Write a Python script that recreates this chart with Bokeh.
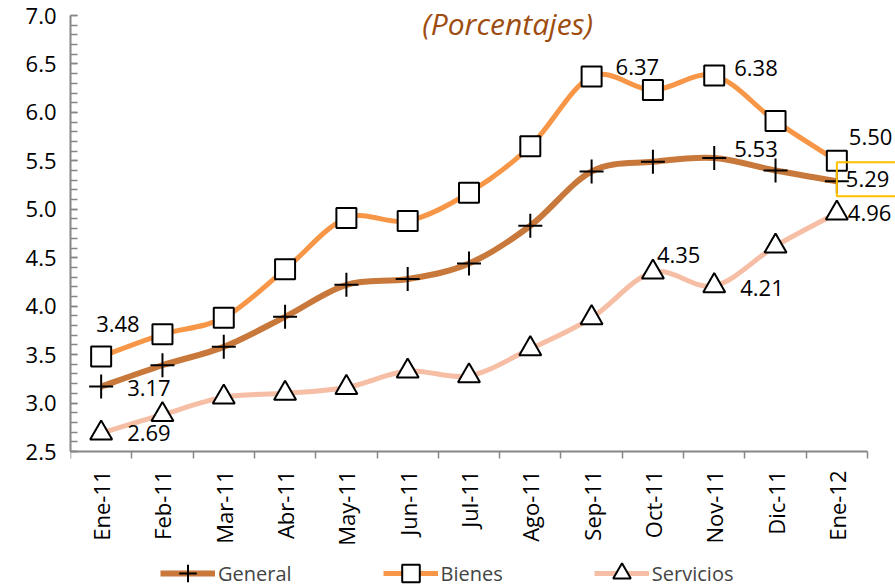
import numpy as np
from bokeh.plotting import figure
from bokeh.models import (ColumnDataSource, FixedTicker, SingleIntervalTicker, Range1d,
                          LabelSet, Label, Legend, LegendItem, NumeralTickFormatter)
from bokeh.embed import file_html
from bokeh.resources import INLINE
from bokeh.core.properties import value

months = ["Ene-11", "Feb-11", "Mar-11", "Abr-11", "May-11", "Jun-11", "Jul-11",
          "Ago-11", "Sep-11", "Oct-11", "Nov-11", "Dic-11", "Ene-12"]
general = [3.17, 3.39, 3.58, 3.89, 4.22, 4.28, 4.44, 4.83, 5.39, 5.49, 5.53, 5.40, 5.29]
bienes = [3.48, 3.71, 3.88, 4.38, 4.91, 4.88, 5.17, 5.65, 6.37, 6.23, 6.38, 5.91, 5.50]
servicios = [2.69, 2.88, 3.06, 3.10, 3.16, 3.33, 3.28, 3.56, 3.88, 4.35, 4.21, 4.62, 4.96]

FONT = "Open Sans"
C_GEN = "#C8783A"
C_BIE = "#F79646"
C_SER = "#F6BEA4"

n = len(months)
xs = np.arange(n) + 0.5
bounds = list(np.arange(n + 1).astype(float))

Y0, Y1 = 2.5, 7.0
PX_PER_UNIT = 436 / (Y1 - Y0)
# frame covers the whole drawing area (axis labels, legend and title live inside it)
p = figure(frame_width=825, frame_height=586, output_backend="svg", toolbar_location=None,
           x_range=Range1d(0, n + 28 / 61.3),
           y_range=Range1d(Y0 - 135 / PX_PER_UNIT, Y1 + 15 / PX_PER_UNIT),
           min_border_left=70, min_border_right=0, min_border_top=0, min_border_bottom=0)
p.outline_line_color = None
p.xgrid.visible = False
p.ygrid.visible = False
p.background_fill_color = "white"
p.border_fill_color = "white"

# y axis
yax = p.yaxis[0]
yax.bounds = (Y0, Y1)
yax.ticker = SingleIntervalTicker(interval=0.5, num_minor_ticks=5)
yax.formatter = NumeralTickFormatter(format="0.0")
yax.axis_line_color = "#868686"
yax.axis_line_width = 2
yax.major_tick_in = 7
yax.major_tick_out = 0
yax.minor_tick_in = 7
yax.minor_tick_out = 0
yax.major_tick_line_color = "#868686"
yax.minor_tick_line_color = "#868686"
yax.major_tick_line_width = 1.5
yax.minor_tick_line_width = 1.5
yax.major_label_text_font = FONT
yax.major_label_text_font_size = "22px"
yax.major_label_text_color = "black"
yax.major_label_standoff = 14

# x axis drawn at y = 2.5
xax = p.xaxis[0]
xax.fixed_location = Y0
xax.bounds = (0, n)
xax.ticker = FixedTicker(ticks=list(xs), minor_ticks=bounds)
xax.major_label_overrides = {float(x): m for x, m in zip(xs, months)}
xax.major_label_orientation = np.pi / 2
xax.axis_line_color = "#868686"
xax.axis_line_width = 2
xax.major_tick_in = 0
xax.major_tick_out = 0
xax.minor_tick_in = 0
xax.minor_tick_out = 7
xax.minor_tick_line_color = "#868686"
xax.minor_tick_line_width = 1.5
xax.major_label_text_font = FONT
xax.major_label_text_font_size = "22px"
xax.major_label_text_color = "black"
xax.major_label_standoff = 12


def smooth_source(x, y):
    x = list(x)
    y = list(y)
    m = len(x)
    d = dict(x0=[], y0=[], x1=[], y1=[], cx0=[], cy0=[], cx1=[], cy1=[])
    for i in range(m - 1):
        a = i - 1 if i > 0 else i
        b = i + 2 if i + 2 < m else i + 1
        d["x0"].append(x[i]); d["y0"].append(y[i])
        d["x1"].append(x[i + 1]); d["y1"].append(y[i + 1])
        d["cx0"].append(x[i] + (x[i + 1] - x[a]) / 6.0)
        d["cy0"].append(y[i] + (y[i + 1] - y[a]) / 6.0)
        d["cx1"].append(x[i + 1] - (x[b] - x[i]) / 6.0)
        d["cy1"].append(y[i + 1] - (y[b] - y[i]) / 6.0)
    return ColumnDataSource(d)


items = []
series = [("General", general, C_GEN, 6, "cross"),
          ("Bienes", bienes, C_BIE, 5, "square"),
          ("Servicios", servicios, C_SER, 5, "triangle")]
for name, vals, col, lw, mk in series:
    r_line = p.bezier(x0="x0", y0="y0", x1="x1", y1="y1", cx0="cx0", cy0="cy0",
                      cx1="cx1", cy1="cy1", source=smooth_source(xs, vals),
                      line_color=col, line_width=lw)
    if mk == "cross":
        r_mk = p.scatter(xs, vals, marker="cross", size=24, line_color="black",
                         line_width=2)
    elif mk == "square":
        r_mk = p.scatter(xs, vals, marker="square", size=20, fill_color="white",
                         line_color="black", line_width=2)
    else:
        r_mk = p.scatter(xs, vals, marker="triangle", size=22, fill_color="white",
                         line_color="black", line_width=2)
    items.append(LegendItem(label=name, renderers=[r_line, r_mk]))

# data labels: (series, index, dx, dy_down)
series_vals = {"general": general, "bienes": bienes, "servicios": servicios}
label_specs = [("bienes", 0, -5, -33), ("general", 0, 26, 1), ("servicios", 0, 26, 0),
               ("bienes", 8, 24, -10), ("bienes", 10, 20, -8), ("general", 10, 20, -9),
               ("bienes", 12, 12, -24), ("servicios", 12, 11, 0),
               ("servicios", 9, 4, -17), ("servicios", 10, 26, 2)]
lab = dict(x=[], y=[], text=[], dx=[], dy=[])
for s, i, dx, dy in label_specs:
    lab["x"].append(xs[i])
    lab["y"].append(series_vals[s][i])
    lab["text"].append("%.2f" % series_vals[s][i])
    lab["dx"].append(dx)
    lab["dy"].append(-dy)
labels = LabelSet(x="x", y="y", text="text", x_offset="dx", y_offset="dy",
                  source=ColumnDataSource(lab), text_font=value(FONT),
                  text_font_size="22px", text_color="black", text_align="left",
                  text_baseline="middle")
p.add_layout(labels)

# selected (boxed) label for the last General value
boxed = Label(x=xs[-1], y=general[-1], text="%.2f" % general[-1], x_offset=0, y_offset=2,
              text_font=FONT, text_font_size="22px", text_color="black",
              text_align="left", text_baseline="middle",
              border_line_color="#FFC000", border_line_width=2, padding=9)
p.add_layout(boxed)

title = Label(x=7.13, y=6.92, text="(Porcentajes)", text_font=FONT,
              text_font_size="30px", text_font_style="italic", text_color="#9E4D10",
              text_align="center", text_baseline="middle")
p.add_layout(title)

legend = Legend(items=items, orientation="horizontal", location=(90, -9),
                glyph_width=55, glyph_height=44, label_standoff=3, spacing=91,
                label_text_font=FONT, label_text_font_size="20px",
                border_line_color=None, background_fill_alpha=0, padding=0, margin=0)
p.add_layout(legend)

open("out.html", "w").write(file_html(p, INLINE))
